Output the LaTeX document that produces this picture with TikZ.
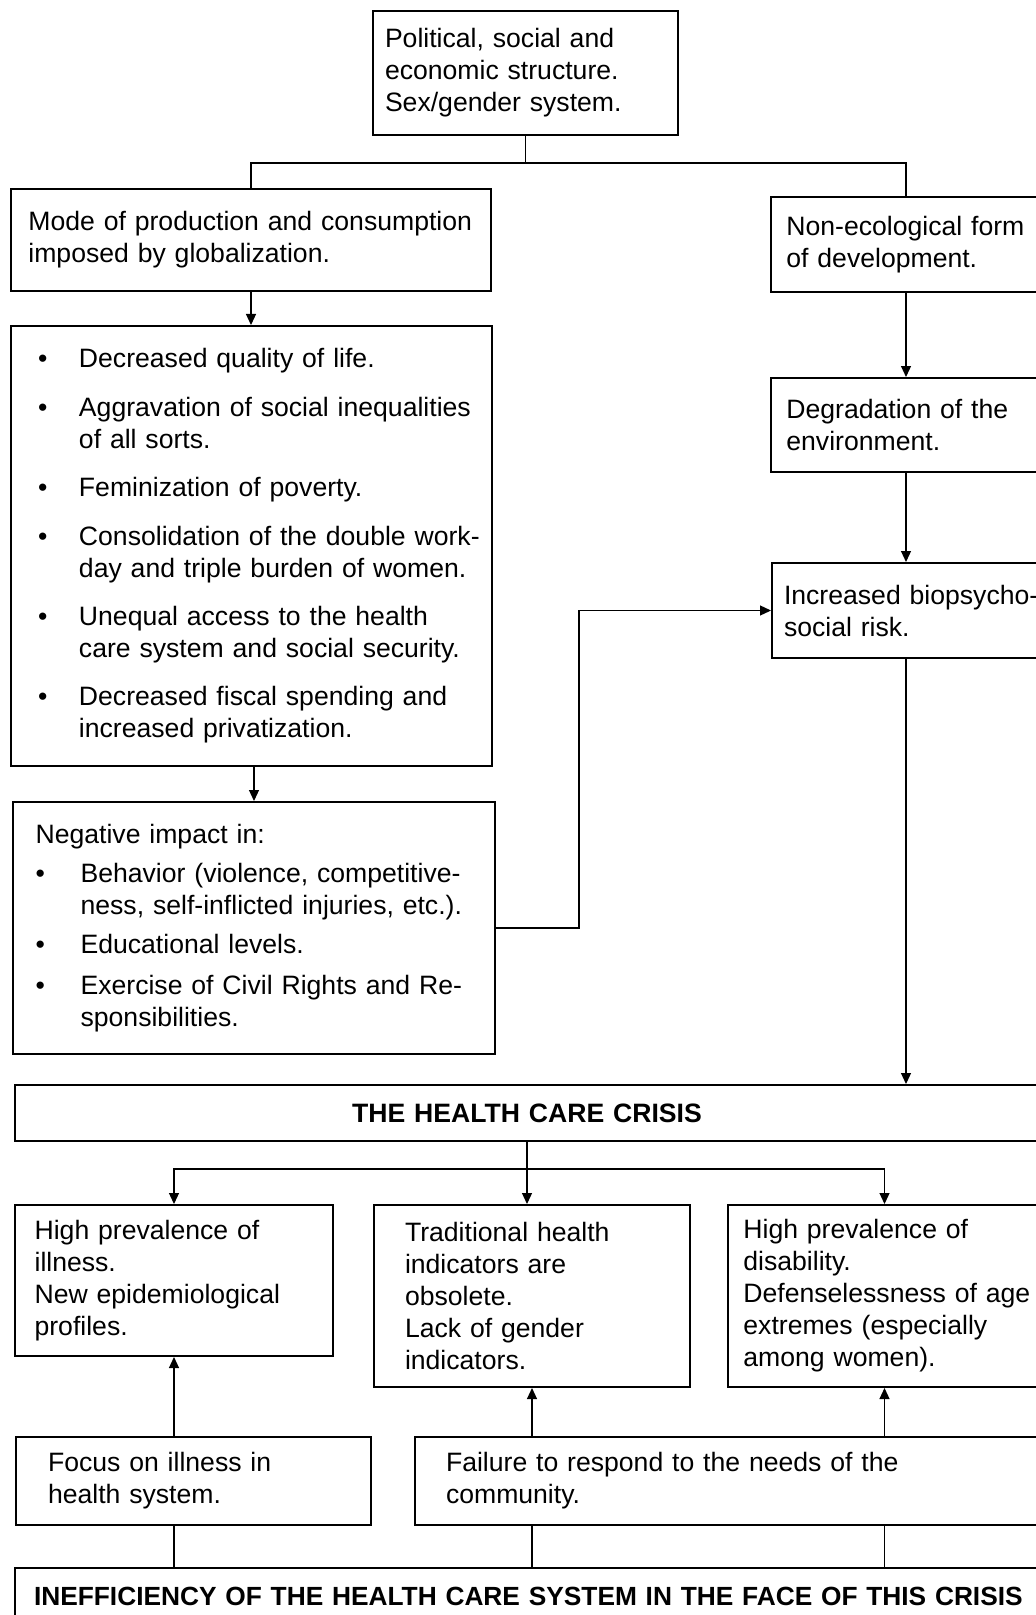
\documentclass[tikz,border=0pt]{standalone}
\usepackage{fontspec}
\setmainfont{Liberation Sans}
\usetikzlibrary{arrows.meta}
\newlength\bind
\newcommand{\bitem}[2][0pt]{\ifdim#1>0pt\par\vspace{#1}\fi\hangindent=\bind\hangafter=1\noindent\makebox[\bind][l]{\textbullet}#2\par}

\begin{document}
\begin{tikzpicture}[x=0.5pt, y=-0.5pt,
  box/.style={draw, line width=1pt, anchor=north west, align=left, inner xsep=2pt, inner ysep=0pt,
    font=\fontsize{13.3}{16}\selectfont},
  lpad/.style={execute at begin node={\leftskip=#1\relax}},
  title/.style={box, align=center, font=\fontsize{13.3}{16}\selectfont\bfseries},
  link/.style={line width=0.6pt},
  arr/.style={link, -{Triangle[length=5.5pt, width=5pt]}}]
  \fill[white] (0,0) rectangle (1036,1615);
  \useasboundingbox (0,0) rectangle (1036,1615);
  \clip (0,0) rectangle (1036,1615);
  % upper part: structure and its two branches
  \node[box, text width=148.5pt, lpad=4pt, minimum height=62pt] (pol) at (372,10)
    {Political, social and\\economic structure.\\Sex/gender system.};
  \node[box, text width=236pt, lpad=6.7pt, minimum height=51pt] (mode) at (10,188)
    {Mode of production and consumption\\imposed by globalization.};
  \node[box, text width=131pt, lpad=5.7pt, minimum height=47.5pt] (noneco) at (770,196)
    {Non-ecological form\\of development.};
  \node[box, text width=131pt, lpad=5.7pt, minimum height=47pt] (degr) at (770,377)
    {Degradation of the\\environment.};
  \node[box, text width=140pt, lpad=4pt, minimum height=47.5pt] (risk) at (771,562)
    {Increased biopsycho-\\social risk.};
  \node[box, text width=236.5pt, lpad=11.5pt, minimum height=220pt] (effects) at (10,325)
    {\setlength\bind{20.5pt}%
     \bitem{Decreased quality of life.}
     \bitem[8.2pt]{Aggravation of social inequalities\newline of all sorts.}
     \bitem[8.2pt]{Feminization of poverty.}
     \bitem[8.2pt]{Consolidation of the double work-\newline day and triple burden of women.}
     \bitem[8.2pt]{Unequal access to the health\newline care system and social security.}
     \bitem[8.2pt]{Decreased fiscal spending and\newline increased privatization.}};
  \node[box, text width=237pt, lpad=9.3pt, minimum height=126pt] (impact) at (12,801)
    {\setlength\bind{22.5pt}Negative impact in:
     \bitem[3.6pt]{Behavior (violence, competitive-\newline ness, self-inflicted injuries, etc.).}
     \bitem[3.6pt]{Educational levels.}
     \bitem[4.5pt]{Exercise of Civil Rights and Re-\newline sponsibilities.}};
  % lower part: the crisis
  \node[title, text width=508pt, minimum height=28pt] (crisis) at (14,1084)
    {THE HEALTH CARE CRISIS};
  \node[box, text width=155pt, lpad=7.8pt, minimum height=75.5pt] (illness) at (14,1204)
    {High prevalence of\\illness.\\New epidemiological\\profiles.};
  \node[box, text width=154pt, lpad=13.5pt, minimum height=91pt] (indic) at (373,1204)
    {Traditional health\\indicators are\\obsolete.\\Lack of gender\\indicators.};
  \node[box, text width=152.5pt, lpad=5.7pt, minimum height=91pt] (disab) at (727,1204)
    {High prevalence of\\disability.\\Defenselessness of age\\extremes (especially\\among women).};
  \node[box, text width=173.5pt, lpad=14pt, minimum height=44pt] (focus) at (15,1436)
    {Focus on illness in\\health system.};
  \node[box, text width=309pt, lpad=13.5pt, minimum height=44pt] (failure) at (414,1436)
    {Failure to respond to the needs of the\\community.};
  \node[title, align=left, text width=514pt, lpad=7.5pt, minimum height=28pt,
    font=\fontsize{13.15}{16}\selectfont\bfseries] (ineff) at (14,1567)
    {INEFFICIENCY OF THE HEALTH CARE SYSTEM IN THE FACE OF THIS CRISIS};

  % connectors
  \draw[link] (pol.south) -- ++(0,27) coordinate (fork);
  \draw[link] (mode.north) |- (fork) -| (noneco.north);
  \draw[arr] (noneco.south) -- (degr.north);
  \draw[arr] (degr.south) -- (degr.south |- risk.north);
  \draw[arr] (mode.south) -- (mode.south |- effects.north);
  \draw[arr] (effects.south -| impact.north) -- (impact.north);
  \draw[arr] (impact.east) -- ++(83,0) |- (risk.west);
  \draw[arr] (degr.south |- risk.south) -- (degr.south |- crisis.north);
  \draw[link] (crisis.south) -- ++(0,27) coordinate (split);
  \draw[arr] (split) -- (split |- indic.north);
  \draw[arr] (split) -| (illness.north);
  \draw[arr] (split) -| (disab.north);
  \draw[arr] (focus.north -| illness.south) -- (illness.south);
  \draw[arr] (failure.north -| indic.south) -- (indic.south);
  \draw[arr] (failure.north -| disab.south) -- (disab.south);
  \draw[link] (ineff.north -| illness.south) -- (focus.south -| illness.south);
  \draw[link] (ineff.north -| indic.south) -- (failure.south -| indic.south);
  \draw[link] (ineff.north -| disab.south) -- (failure.south -| disab.south);
\end{tikzpicture}
\end{document}
